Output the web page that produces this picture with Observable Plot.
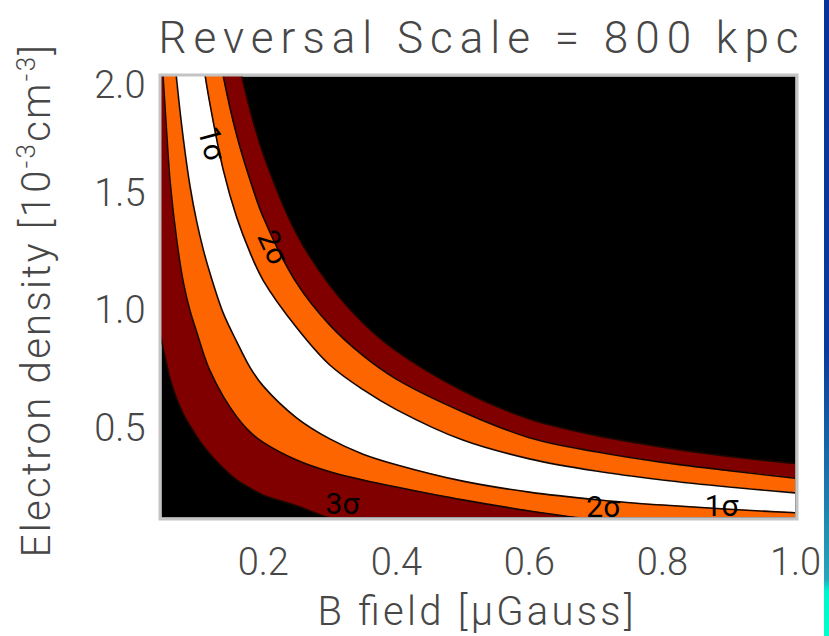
<!DOCTYPE html>
<html><head><meta charset="utf-8">
<script src="https://cdn.jsdelivr.net/npm/d3@7"></script>
<script src="https://cdn.jsdelivr.net/npm/@observablehq/plot@0.6"></script>
<style>
body{margin:0;background:#fff;width:829px;height:636px;overflow:hidden;position:relative}
#chart{position:absolute;left:0;top:0}
#strip{position:absolute;left:824px;top:0;width:5px;height:636px;background:linear-gradient(to bottom,#063399 0%,#0a3a9c 55%,#1a74aa 75%,#26a6b9 91%,#00f5d0 93%,#00ffcc 100%)}
</style></head><body><div id="chart"></div><div id="strip"></div>
<script>
// B field sample positions (μGauss) and contour boundaries of electron density (10^-3 cm^-3)
const bField = [0.045,0.055,0.06,0.07,0.08,0.09,0.10,0.11,0.12,0.14,0.16,0.18,0.20,0.25,0.30,0.35,0.40,0.50,0.60,0.70,0.80,0.90,1.00];
const sig1Lo = [3.05,2.5,2.3,1.98,1.73,1.53,1.38,1.26,1.16,0.99,0.87,0.76,0.68,0.545,0.455,0.39,0.345,0.275,0.228,0.196,0.173,0.155,0.14];
const sig1Hi = [5.0,4.1,3.75,3.2,2.8,2.5,2.25,2.05,1.88,1.6,1.4,1.25,1.13,0.93,0.77,0.665,0.58,0.45,0.37,0.318,0.28,0.25,0.225];
const sig2Lo = [2.2,1.75,1.55,1.3,1.12,1.0,0.91,0.82,0.745,0.635,0.55,0.485,0.44,0.365,0.315,0.28,0.25,0.195,0.148,0.11,0.088,0.072,0.06];
const sig2Hi = [6.2,5.1,4.7,4.0,3.5,3.1,2.8,2.55,2.33,2.0,1.75,1.56,1.40,1.12,0.94,0.81,0.71,0.57,0.46,0.40,0.355,0.32,0.287];
const sig3Lo = [0.9,0.77,0.71,0.625,0.56,0.51,0.465,0.425,0.39,0.33,0.28,0.245,0.215,0.17,0.118,0.09,0.075,0.06,0.05,0.045,0.04,0.035,0.03];
const sig3Hi = [7.4,6.0,5.5,4.7,4.2,3.7,3.35,3.05,2.8,2.4,2.1,1.86,1.67,1.33,1.11,0.95,0.83,0.66,0.54,0.47,0.42,0.38,0.35];

const xTicks = [0.2,0.4,0.6,0.8,1.0];
const yTicks = [0.5,1.0,1.5];
const yTopTick = [2.0];

const titleText = "Reversal Scale = 800 kpc";
const xLabelText = "B field [μGauss]";
const yLabelParts = [["Electron density [10",false],["-3",true],["cm",false],["-3",true],["]",false]];
const yLabelText = yLabelParts.map(d => d[0]).join("");

const contourLabels = [
  {text:"1σ", B:0.122, ne:1.714, angle:75},
  {text:"2σ", B:0.214, ne:1.271, angle:65},
  {text:"3σ", B:0.319, ne:0.176, angle:0},
  {text:"2σ", B:0.711, ne:0.163, angle:0},
  {text:"1σ", B:0.889, ne:0.167, angle:0}
];

const rows = bField.map((b,i)=>({B:b, s1lo:sig1Lo[i], s1hi:sig1Hi[i], s2lo:sig2Lo[i], s2hi:sig2Hi[i], s3lo:sig3Lo[i], s3hi:sig3Hi[i]}));

const lineKeys = ["s3lo","s3hi","s2lo","s2hi","s1lo","s1hi"];

const plot = Plot.plot({
  width: 829, height: 636,
  marginTop: 76, marginRight: 34, marginBottom: 119, marginLeft: 161,
  style: {fontFamily: "Roboto, 'DejaVu Sans', sans-serif", fontSize: "38px", fontWeight: 300, color: "#474747", background: "transparent", overflow: "visible"},
  x: {domain: [0.047, 1.0], label: null},
  y: {domain: [0.12, 2.0], label: null},
  marks: [
    Plot.frame({fill: "black"}),
    Plot.areaY(rows, {x: "B", y1: "s3lo", y2: "s3hi", fill: "#800000", curve: "catmull-rom", clip: true}),
    Plot.areaY(rows, {x: "B", y1: "s2lo", y2: "s2hi", fill: "#fc6500", curve: "catmull-rom", clip: true}),
    Plot.areaY(rows, {x: "B", y1: "s1lo", y2: "s1hi", fill: "#ffffff", curve: "catmull-rom", clip: true}),
    ...lineKeys.map(k => Plot.line(rows, {x: "B", y: k, stroke: "#160800", strokeWidth: 1.6, curve: "catmull-rom", clip: true})),
    Plot.text(contourLabels, {x: "B", y: "ne", text: "text", rotate: "angle", fontSize: 30, fontWeight: 400, fill: "#000", clip: true}),
    Plot.frame({stroke: "#c4c4c4", strokeWidth: 3, inset: -1.5}),
    Plot.axisX(xTicks, {tickSize: 0, tickPadding: 31, tickFormat: ".1f", label: null}),
    Plot.axisY(yTicks, {tickSize: 0, tickPadding: 16, tickFormat: ".1f", label: null}),
    Plot.axisY(yTopTick, {tickSize: 0, tickPadding: 16, tickFormat: ".1f", label: null, dy: 9}),
    Plot.text([titleText], {frameAnchor: "top", textAnchor: "middle", dy: -38, fontSize: 44, lineAnchor: "middle", fill: "#474747"}),
    Plot.text([xLabelText], {frameAnchor: "bottom", textAnchor: "middle", dx: -3, dy: 95, fontSize: 40, lineAnchor: "middle", fill: "#474747"}),
    Plot.text([yLabelText], {frameAnchor: "left", textAnchor: "middle", dx: -124, dy: 3, rotate: -90, fontSize: 40, lineAnchor: "middle", fill: "#474747"})
  ]
});
document.getElementById("chart").append(plot);

const svg = d3.select(plot);
svg.selectAll("text").each(function() {
  const el = d3.select(this);
  const t = this.textContent;
  if (t === titleText) el.attr("textLength", 640).attr("lengthAdjust", "spacing");
  else if (t === xLabelText) el.attr("textLength", 316).attr("lengthAdjust", "spacing");
  else if (t === yLabelText) {
    el.text(null).style("letter-spacing", "2.3px");
    let up = false;
    for (const [part, sup] of yLabelParts) {
      const ts = el.append("tspan").text(part);
      if (sup && !up) { ts.attr("dy", -15).attr("font-size", 26); up = true; }
      else if (sup && up) { ts.attr("font-size", 26); }
      else if (!sup && up) { ts.attr("dy", 15); up = false; }
    }
  }
});
</script>
</body></html>
